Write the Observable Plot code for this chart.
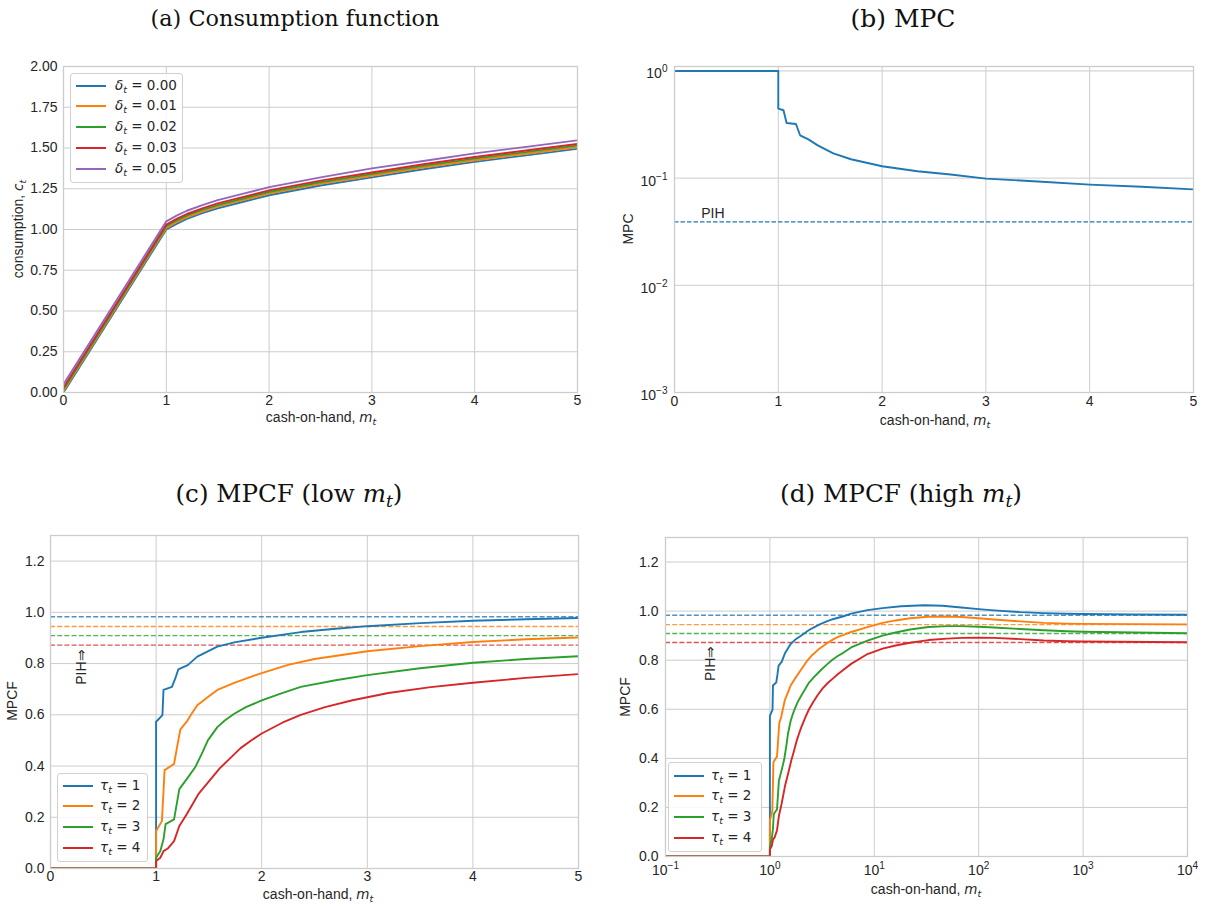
<!DOCTYPE html>
<html><head><meta charset="utf-8">
<script src="https://cdn.jsdelivr.net/npm/d3@7"></script>
<script src="https://cdn.jsdelivr.net/npm/@observablehq/plot@0.6"></script>
<style>
body{margin:0;background:#fff;}
#fig{position:relative;width:1209px;height:907px;overflow:hidden;font-family:"Liberation Sans",Arial,sans-serif;color:#262626;background:#fff;}
.title{position:absolute;font-family:"DejaVu Serif",serif;font-size:22px;white-space:nowrap;transform:translate(-50%,-50%);color:#111;line-height:1;}
.lab{position:absolute;font-size:14px;white-space:nowrap;transform:translate(-50%,-50%);line-height:1;}
.ylab{transform:translate(-50%,-50%) rotate(-90deg);}
.math{font-family:"DejaVu Sans",sans-serif;font-size:13.5px;}
sub{font-size:0.7em;vertical-align:-0.3em;line-height:0;}
.legend{position:absolute;border:1px solid #d0d0d0;border-radius:3px;background:rgba(255,255,255,0.85);}
.legend .ln{position:absolute;height:2px;width:30px;}
.legend .tx{position:absolute;font-family:"DejaVu Sans",sans-serif;font-size:13.5px;white-space:nowrap;transform:translateY(-50%);line-height:1;color:#262626;}
</style></head>
<body><div id="fig"></div>
<script>
// ---------------- data ----------------
// (a) consumption function
const consM     = [0, 1, 1.1, 1.2, 1.35, 1.5, 1.75, 2, 2.5, 3, 3.5, 4, 4.5, 5];
const consD000  = [0.00, 1.00, 1.035, 1.065, 1.10, 1.13, 1.17, 1.21, 1.27, 1.32, 1.37, 1.415, 1.455, 1.495];
const consD001  = [0.01, 1.01, 1.045, 1.075, 1.11, 1.14, 1.18, 1.22, 1.28, 1.33, 1.38, 1.425, 1.465, 1.505];
const consD002  = [0.02, 1.02, 1.055, 1.085, 1.12, 1.15, 1.19, 1.23, 1.29, 1.34, 1.39, 1.435, 1.475, 1.515];
const consD003  = [0.03, 1.03, 1.065, 1.095, 1.13, 1.16, 1.20, 1.24, 1.30, 1.35, 1.40, 1.445, 1.485, 1.525];
const consD005  = [0.05, 1.05, 1.085, 1.115, 1.15, 1.18, 1.22, 1.26, 1.32, 1.375, 1.42, 1.467, 1.507, 1.547];
const deltaLabels = ["0.00", "0.01", "0.02", "0.03", "0.05"];
const aXTicks = [0, 1, 2, 3, 4, 5];
const aYTicks = [0, 0.25, 0.5, 0.75, 1.0, 1.25, 1.5, 1.75, 2.0];

// (b) MPC
const mpcM = [0, 1, 1, 1.05, 1.08, 1.17, 1.21, 1.29, 1.38, 1.53, 1.70, 2.0, 2.34, 2.66, 3, 3.5, 4, 4.5, 5];
const mpcV = [1, 1, 0.445, 0.43, 0.327, 0.32, 0.251, 0.230, 0.202, 0.170, 0.150, 0.129, 0.116, 0.108, 0.099, 0.093, 0.087, 0.083, 0.0785];
const mpcPIH = 0.039;
const bYTicks = [0.001, 0.01, 0.1, 1];
const pihLabelB = {m: 0.37, v: 0.047};

// (c),(d) MPCF, tau = 1..4
const mpcfM1 = [0, 0.1, 1, 1, 1.06, 1.07, 1.15, 1.18, 1.21, 1.3, 1.39, 1.58, 1.74, 2, 2.37, 2.7, 3, 3.5, 4, 4.5, 5, 6, 8.6, 12, 18, 30, 45, 68, 100, 140, 250, 420, 700, 1000, 3000, 10000];
const mpcfV1 = [0, 0, 0, 0.573, 0.599, 0.697, 0.709, 0.74, 0.777, 0.794, 0.827, 0.866, 0.883, 0.901, 0.923, 0.936, 0.946, 0.958, 0.967, 0.973, 0.978, 0.99, 1.004, 1.012, 1.02, 1.024, 1.022, 1.015, 1.008, 1.003, 0.996, 0.992, 0.989, 0.988, 0.986, 0.985];
const mpcfM2 = [0, 0.1, 1, 1, 1.055, 1.07, 1.08, 1.17, 1.21, 1.23, 1.29, 1.33, 1.39, 1.5, 1.58, 1.74, 2, 2.25, 2.5, 3, 3.5, 4, 4.5, 5, 6, 8.6, 12, 16, 22, 33, 50, 68, 100, 140, 250, 420, 700, 1000, 10000];
const mpcfV2 = [0, 0, 0, 0.146, 0.185, 0.3, 0.384, 0.408, 0.5, 0.543, 0.573, 0.6, 0.637, 0.672, 0.697, 0.725, 0.763, 0.795, 0.818, 0.848, 0.868, 0.884, 0.895, 0.902, 0.915, 0.935, 0.952, 0.962, 0.971, 0.977, 0.978, 0.976, 0.971, 0.966, 0.958, 0.952, 0.949, 0.948, 0.946];
const mpcfM3 = [0, 0.1, 1, 1, 1.04, 1.07, 1.09, 1.17, 1.22, 1.3, 1.37, 1.44, 1.49, 1.58, 1.65, 1.74, 1.85, 2, 2.2, 2.37, 2.7, 3, 3.5, 4, 4.5, 5, 6, 8.6, 12, 16, 22, 33, 50, 68, 100, 140, 250, 420, 700, 1000, 10000];
const mpcfV3 = [0, 0, 0, 0.042, 0.068, 0.114, 0.173, 0.192, 0.31, 0.355, 0.395, 0.454, 0.5, 0.552, 0.578, 0.604, 0.630, 0.656, 0.686, 0.709, 0.735, 0.755, 0.782, 0.803, 0.818, 0.829, 0.852, 0.880, 0.900, 0.913, 0.925, 0.935, 0.939, 0.939, 0.936, 0.933, 0.927, 0.922, 0.918, 0.916, 0.910];
const mpcfM4 = [0, 0.1, 1, 1, 1.04, 1.07, 1.11, 1.17, 1.22, 1.29, 1.4, 1.5, 1.6, 1.7, 1.8, 1.9, 2, 2.2, 2.37, 2.6, 2.86, 3.2, 3.6, 4, 4.5, 5, 6, 8.6, 12, 16, 22, 33, 50, 68, 100, 140, 250, 420, 700, 1000, 10000];
const mpcfV4 = [0, 0, 0, 0.029, 0.042, 0.068, 0.078, 0.107, 0.166, 0.212, 0.29, 0.34, 0.39, 0.43, 0.47, 0.50, 0.527, 0.570, 0.60, 0.63, 0.657, 0.685, 0.708, 0.725, 0.744, 0.759, 0.785, 0.825, 0.847, 0.86, 0.871, 0.882, 0.888, 0.891, 0.892, 0.891, 0.886, 0.88, 0.877, 0.876, 0.873];
const mpcfPIH = [0.983, 0.945, 0.909, 0.872];
const tauLabels = ["1", "2", "3", "4"];
const cYTicks = [0, 0.2, 0.4, 0.6, 0.8, 1.0, 1.2];
const dXTicks = [0.1, 1, 10, 100, 1000, 10000];
const pihLabelC = {m: 0.29, v: 0.786};
const pihLabelD = {m: 0.272, v: 0.787};

// ---------------- drawing ----------------
const fig = document.getElementById("fig");
const FONT = '"Liberation Sans", Arial, sans-serif';
const COL = ["#1f77b4", "#ff7f0e", "#2ca02c", "#d62728", "#9467bd"];
const GRID = "#cccccc";
const baseStyle = {fontFamily: FONT, fontSize: "14px", color: "#262626", background: "transparent", overflow: "visible"};
const NS = "http://www.w3.org/2000/svg";

function place(svg, left, top) {
  svg.style.position = "absolute";
  svg.style.left = left + "px";
  svg.style.top = top + "px";
  fig.appendChild(svg);
}
function supify(svg) {
  svg.querySelectorAll("text").forEach(t => {
    const mt = t.textContent.match(/^10\^(.+)$/);
    if (!mt) return;
    t.textContent = "";
    const a = document.createElementNS(NS, "tspan"); a.textContent = "10";
    const b = document.createElementNS(NS, "tspan"); b.textContent = mt[1];
    b.setAttribute("dy", "-0.6em"); b.setAttribute("font-size", "0.72em");
    t.append(a, b);
  });
}
const expFmt = d => "10^" + String(Math.round(Math.log10(d))).replace("-", "\u2212");
function html(cls, x, y, inner) {
  const el = document.createElement("div");
  el.className = cls;
  el.style.left = x + "px"; el.style.top = y + "px";
  el.innerHTML = inner;
  fig.appendChild(el);
  return el;
}
function fitTitle(el, target) {
  const w = el.getBoundingClientRect().width;
  if (w > 0) el.style.fontSize = (22 * target / w) + "px";
}
const toRows = (ms, vs) => ms.map((m, i) => ({m, v: vs[i]}));

// (a)
const consSeries = [consD000, consD001, consD002, consD003, consD005];
const plotA = Plot.plot({
  width: 600, height: 400, marginLeft: 63, marginRight: 23, marginTop: 26, marginBottom: 48,
  style: baseStyle,
  x: {domain: [0, 5]}, y: {domain: [0, 2]},
  marks: [
    Plot.gridX({ticks: aXTicks, stroke: GRID, strokeOpacity: 1, strokeWidth: 1}),
    Plot.gridY({ticks: aYTicks, stroke: GRID, strokeOpacity: 1, strokeWidth: 1}),
    ...consSeries.map((s, k) => Plot.line(toRows(consM, s), {x: "m", y: "v", stroke: COL[k], strokeWidth: 1.9, clip: true})),
    Plot.frame({stroke: GRID, strokeWidth: 1.3}),
    Plot.axisX({ticks: aXTicks, tickSize: 0, tickPadding: 3, label: null, tickFormat: d => String(d)}),
    Plot.axisY({ticks: aYTicks, tickSize: 0, tickPadding: 6, label: null, tickFormat: d3.format(".2f")})
  ]
});
place(plotA, 0, 40);

// (b)
const plotB = Plot.plot({
  width: 605, height: 400, marginLeft: 70, marginRight: 16, marginTop: 26, marginBottom: 48,
  style: baseStyle,
  x: {domain: [0, 5]}, y: {type: "log", domain: [0.001, 1.1]},
  marks: [
    Plot.gridX({ticks: aXTicks, stroke: GRID, strokeOpacity: 1, strokeWidth: 1}),
    Plot.gridY({ticks: bYTicks, stroke: GRID, strokeOpacity: 1, strokeWidth: 1}),
    Plot.ruleY([mpcPIH], {stroke: COL[0], strokeWidth: 1.3, strokeDasharray: "4.5,2"}),
    Plot.line(toRows(mpcM, mpcV), {x: "m", y: "v", stroke: COL[0], strokeWidth: 1.9, clip: true}),
    Plot.text([pihLabelB], {x: "m", y: "v", text: () => "PIH", fontSize: 14, fill: "#262626"}),
    Plot.frame({stroke: GRID, strokeWidth: 1.3}),
    Plot.axisX({ticks: aXTicks, tickSize: 0, tickPadding: 4, label: null, tickFormat: d => String(d)}),
    Plot.axisY({ticks: bYTicks, tickSize: 0, tickPadding: 7, label: null, tickFormat: expFmt, dy: 3})
  ]
});
supify(plotB);
place(plotB, 604, 40);

// (c)
const mpcfSeries = [[mpcfM1, mpcfV1], [mpcfM2, mpcfV2], [mpcfM3, mpcfV3], [mpcfM4, mpcfV4]];
const plotC = Plot.plot({
  width: 600, height: 397, marginLeft: 50, marginRight: 22, marginTop: 25, marginBottom: 39,
  style: baseStyle,
  x: {domain: [0, 5]}, y: {domain: [0, 1.3]},
  marks: [
    Plot.gridX({ticks: aXTicks, stroke: GRID, strokeOpacity: 1, strokeWidth: 1}),
    Plot.gridY({ticks: cYTicks, stroke: GRID, strokeOpacity: 1, strokeWidth: 1}),
    ...mpcfPIH.map((p, k) => Plot.ruleY([p], {stroke: COL[k], strokeWidth: 1.4, strokeOpacity: 0.8, strokeDasharray: "5,2.2"})),
    ...mpcfSeries.map(([ms, vs], k) => Plot.line(toRows(ms, vs).filter(d => d.m <= 5), {x: "m", y: "v", stroke: COL[k], strokeWidth: 1.9, clip: true})),
    Plot.text([pihLabelC], {x: "m", y: "v", text: () => "PIH\u21D2", rotate: -90, fontSize: 14, fill: "#262626"}),
    Plot.frame({stroke: GRID, strokeWidth: 1.3}),
    Plot.axisX({ticks: aXTicks, tickSize: 0, tickPadding: 3, label: null, tickFormat: d => String(d)}),
    Plot.axisY({ticks: cYTicks, tickSize: 0, tickPadding: 6, label: null, tickFormat: d3.format(".1f")})
  ]
});
place(plotC, 0, 510);

// (d)
const plotD = Plot.plot({
  width: 605, height: 397, marginLeft: 61, marginRight: 22, marginTop: 27, marginBottom: 51,
  style: baseStyle,
  x: {type: "log", domain: [0.1, 10000]}, y: {domain: [0, 1.3]},
  marks: [
    Plot.gridX({ticks: dXTicks, stroke: GRID, strokeOpacity: 1, strokeWidth: 1}),
    Plot.gridY({ticks: cYTicks, stroke: GRID, strokeOpacity: 1, strokeWidth: 1}),
    ...mpcfPIH.map((p, k) => Plot.ruleY([p], {stroke: COL[k], strokeWidth: 1.4, strokeOpacity: 0.8, strokeDasharray: "5,2.2"})),
    ...mpcfSeries.map(([ms, vs], k) => Plot.line(toRows(ms, vs).filter(d => d.m > 0), {x: "m", y: "v", stroke: COL[k], strokeWidth: 1.9, clip: true})),
    Plot.text([pihLabelD], {x: "m", y: "v", text: () => "PIH\u21D2", rotate: -90, fontSize: 14, fill: "#262626"}),
    Plot.frame({stroke: GRID, strokeWidth: 1.3}),
    Plot.axisX({ticks: dXTicks, tickSize: 0, tickPadding: 9, label: null, tickFormat: expFmt}),
    Plot.axisY({ticks: cYTicks, tickSize: 0, tickPadding: 7, label: null, tickFormat: d3.format(".1f")})
  ]
});
supify(plotD);
place(plotD, 604, 510);

// titles
const mt = '<i>m</i><sub><i>t</i></sub>';
fitTitle(html("title", 295, 18, "(a) Consumption function"), 289);
fitTitle(html("title", 903, 18, "(b) MPC"), 105);
fitTitle(html("title", 289, 494, "(c) MPCF (low " + mt + ")"), 227);
fitTitle(html("title", 901, 494, "(d) MPCF (high " + mt + ")"), 242);

// axis labels
const mtS = '<span class="math"><i>m</i><sub><i>t</i></sub></span>';
html("lab", 321, 417, "cash-on-hand, " + mtS);
html("lab", 935, 420, "cash-on-hand, " + mtS);
html("lab", 318, 894, "cash-on-hand, " + mtS);
html("lab", 926, 889, "cash-on-hand, " + mtS);
html("lab ylab", 18, 229, 'consumption, <span class="math"><i>c</i><sub><i>t</i></sub></span>');
html("lab ylab", 628, 229, "MPC");
html("lab ylab", 12, 701, "MPCF");
html("lab ylab", 625, 697, "MPCF");

// legends
function legend(x, y, w, h, labels, mathVar, colors, textLeft, rowTop) {
  const box = document.createElement("div");
  box.className = "legend";
  Object.assign(box.style, {left: x + "px", top: y + "px", width: w + "px", height: h + "px"});
  labels.forEach((lab, i) => {
    const cy = rowTop + i * 20.8;
    const ln = document.createElement("div");
    ln.className = "ln";
    Object.assign(ln.style, {left: "5px", top: (cy - 1) + "px", background: colors[i]});
    const tx = document.createElement("div");
    tx.className = "tx";
    Object.assign(tx.style, {left: textLeft + "px", top: cy + "px"});
    tx.innerHTML = "<i>" + mathVar + "</i><sub><i>t</i></sub> = " + lab;
    box.append(ln, tx);
  });
  fig.appendChild(box);
}
legend(70, 73, 111, 108, deltaLabels, "\u03B4", COL, 44, 11.5);
legend(57, 773, 89, 87, tauLabels, "\u03C4", COL, 42, 11.5);
legend(668, 762, 92, 88, tauLabels, "\u03C4", COL, 42, 12.5);
</script>
</body></html>
